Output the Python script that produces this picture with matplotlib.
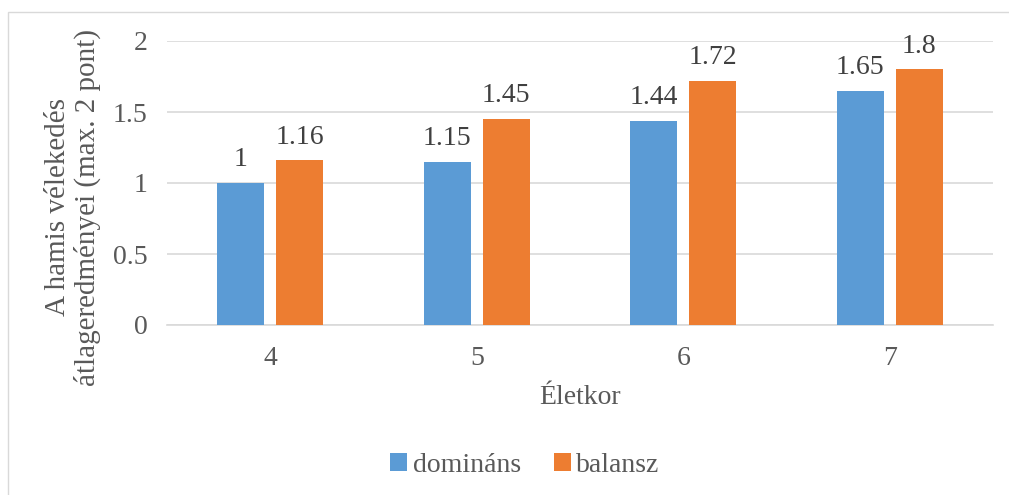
import numpy as np
import matplotlib
matplotlib.use('Agg')
import matplotlib.pyplot as plt
from matplotlib.patches import Rectangle

# data
ages = ['4', '5', '6', '7']
dominans = [1.0, 1.15, 1.44, 1.65]
balansz = [1.16, 1.45, 1.72, 1.8]
dom_labels = ['1', '1.15', '1.44', '1.65']
bal_labels = ['1.16', '1.45', '1.72', '1.8']

plt.rcParams['font.family'] = ['Liberation Serif', 'DejaVu Serif']
txt = '#595959'
fs = 20

fig = plt.figure(figsize=(10.09, 4.95), dpi=100)
fig.patches.append(Rectangle((8 / 1009, -0.1), 1.2, 1.1 - 12 / 495,
                             transform=fig.transFigure, fill=False,
                             edgecolor='#d9d9d9', linewidth=1))
ax = fig.add_axes([167 / 1009, 1 - 325 / 495, 826 / 1009, 284 / 495])

x = np.arange(len(ages))
w = 0.228
off = 0.143
b1 = ax.bar(x - off, dominans, w, color='#5B9BD5', label='domináns', zorder=3)
b2 = ax.bar(x + off, balansz, w, color='#ED7D31', label='balansz', zorder=3)

for bars, labs in ((b1, dom_labels), (b2, bal_labels)):
    for r, lab in zip(bars, labs):
        ax.text(r.get_x() + r.get_width() / 2, r.get_height() + 0.075, lab,
                ha='center', va='bottom', fontsize=fs, color='#404040')

ax.set_xlim(-0.5, 3.5)
ax.set_ylim(0, 2)
ax.set_yticks([0, 0.5, 1, 1.5, 2])
ax.set_yticklabels(['0', '0.5', '1', '1.5', '2'])
ax.set_xticks(x)
ax.set_xticklabels(ages)
ax.tick_params(axis='both', length=0, labelsize=fs, labelcolor=txt)
ax.tick_params(axis='y', pad=14)
ax.tick_params(axis='x', pad=15)
ax.grid(axis='y', color='#d9d9d9', linewidth=1.2, zorder=0)
for s in ['top', 'right', 'left']:
    ax.spines[s].set_visible(False)
ax.spines['bottom'].set_color('#d9d9d9')
ax.spines['bottom'].set_linewidth(1.2)

ax.set_xlabel('Életkor', fontsize=fs, color=txt, labelpad=10)
ax.set_ylabel('A hamis vélekedés\nátlageredményei (max. 2 pont)',
              fontsize=21, color=txt, linespacing=1.12)
ax.yaxis.set_label_coords(-0.08, 0.415)

fig.legend(handles=[b1, b2], loc='center', bbox_to_anchor=(525 / 1009, 1 - 465 / 495),
           ncol=2, frameon=False, fontsize=fs, labelcolor=txt,
           handlelength=0.6, handleheight=0.6, handletextpad=0.2, columnspacing=1.2)

fig.savefig('out.png', dpi=100)
